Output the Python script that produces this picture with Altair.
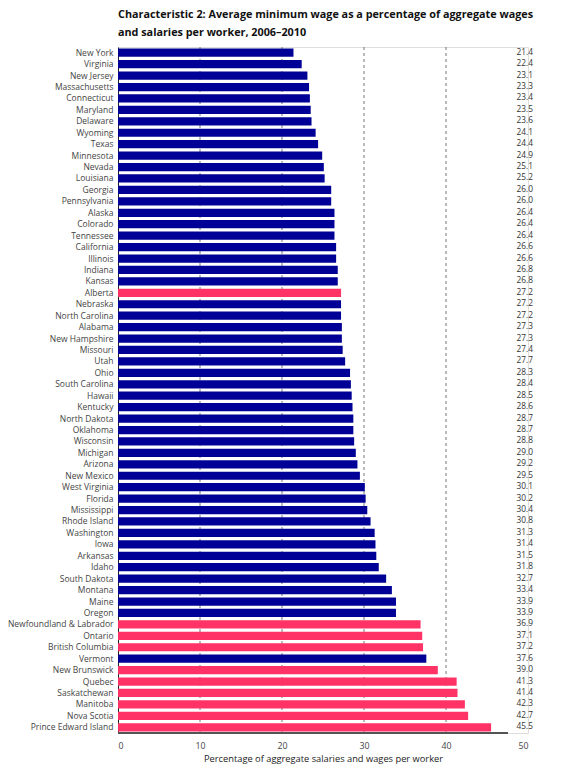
import altair as alt
import pandas as pd

# Jurisdictions in display order, top to bottom
regions = [
    "New York", "Virginia", "New Jersey", "Massachusetts", "Connecticut",
    "Maryland", "Delaware", "Wyoming", "Texas", "Minnesota", "Nevada",
    "Louisiana", "Georgia", "Pennsylvania", "Alaska", "Colorado", "Tennessee",
    "California", "Illinois", "Indiana", "Kansas", "Alberta", "Nebraska",
    "North Carolina", "Alabama", "New Hampshire", "Missouri", "Utah", "Ohio",
    "South Carolina", "Hawaii", "Kentucky", "North Dakota", "Oklahoma",
    "Wisconsin", "Michigan", "Arizona", "New Mexico", "West Virginia",
    "Florida", "Mississippi", "Rhode Island", "Washington", "Iowa", "Arkansas",
    "Idaho", "South Dakota", "Montana", "Maine", "Oregon",
    "Newfoundland & Labrador", "Ontario", "British Columbia", "Vermont",
    "New Brunswick", "Quebec", "Saskatchewan", "Manitoba", "Nova Scotia",
    "Prince Edward Island",
]

# Average minimum wage as % of aggregate wages and salaries per worker
values = [
    21.4, 22.4, 23.1, 23.3, 23.4, 23.5, 23.6, 24.1, 24.4, 24.9, 25.1, 25.2,
    26.0, 26.0, 26.4, 26.4, 26.4, 26.6, 26.6, 26.8, 26.8, 27.2, 27.2, 27.2,
    27.3, 27.3, 27.4, 27.7, 28.3, 28.4, 28.5, 28.6, 28.7, 28.7, 28.8, 29.0,
    29.2, 29.5, 30.1, 30.2, 30.4, 30.8, 31.3, 31.4, 31.5, 31.8, 32.7, 33.4,
    33.9, 33.9, 36.9, 37.1, 37.2, 37.6, 39.0, 41.3, 41.4, 42.3, 42.7, 45.5,
]

canadian = {
    "Alberta", "Newfoundland & Labrador", "Ontario", "British Columbia",
    "New Brunswick", "Quebec", "Saskatchewan", "Manitoba", "Nova Scotia",
    "Prince Edward Island",
}
countries = ["Canada" if r in canadian else "United States" for r in regions]

x_ticks = [0, 10, 20, 30, 40, 50]
grid_lines = [10, 20, 30, 40]

df = pd.DataFrame({
    "region": regions,
    "value": values,
    "country": countries,
    "label": [f"{v:.1f}" for v in values],
})
grid_df = pd.DataFrame({"value": grid_lines})

FONT = "Open Sans"
W, H = 410, 686
x_scale = alt.Scale(domain=[0, 50], nice=False)

# Dashed reference lines behind the bars
grid = alt.Chart(grid_df).mark_rule(
    color="#777777", strokeDash=[3, 3], strokeWidth=1,
).encode(x=alt.X("value:Q", scale=x_scale))

bars = alt.Chart(df).mark_bar(stroke=None).encode(
    x=alt.X(
        "value:Q",
        scale=x_scale,
        title="Percentage of aggregate salaries and wages per worker",
        axis=alt.Axis(
            values=x_ticks, format="d", ticks=False, domain=False, grid=False,
            labelFontSize=8.8, labelColor="#444444", labelFont=FONT,
            labelPadding=8, titleFont=FONT, titleFontSize=9.3,
            titleFontWeight="normal", titleColor="#222222", titlePadding=5,
        ),
    ),
    y=alt.Y(
        "region:N", sort=regions, title=None,
        scale=alt.Scale(paddingInner=0.28, paddingOuter=0.14),
        axis=alt.Axis(
            ticks=False, labelPadding=5, labelFontSize=8.5,
            labelColor="#444444", labelFont=FONT, domainColor="#222222",
            domainWidth=1, grid=False,
        ),
    ),
    color=alt.Color(
        "country:N",
        scale=alt.Scale(domain=["United States", "Canada"],
                        range=["#000096", "#FF3366"]),
        legend=None,
    ),
)

labels = alt.Chart(df).mark_text(
    align="right", baseline="middle", fontSize=8.3, font=FONT, color="#333333",
).encode(
    x=alt.value(415),
    y=alt.Y("region:N", sort=regions),
    text="label:N",
)

# Bottom baseline, stopping short of the label column
baseline = alt.Chart(df).mark_rule(color="#555555", strokeWidth=1).encode(
    x=alt.value(0), x2=alt.value(390), y=alt.value(H),
)

chart = alt.layer(grid, bars, labels, baseline).properties(
    width=W,
    height=H,
    autosize=alt.AutoSizeParams(type="none"),
    padding={"left": 118, "top": 47, "right": 33, "bottom": 35},
    title=alt.TitleParams(
        text=["Characteristic 2: Average minimum wage as a percentage of aggregate wages",
              "and salaries per worker, 2006\u20132010"],
        anchor="start", frame="group", font=FONT, fontSize=10.8,
        fontWeight="bold", color="#111111", lineHeight=18, offset=9,
    ),
).configure_view(stroke=None).configure(background="white")

chart.save("out.html", embed_options={"renderer": "svg", "actions": False})
